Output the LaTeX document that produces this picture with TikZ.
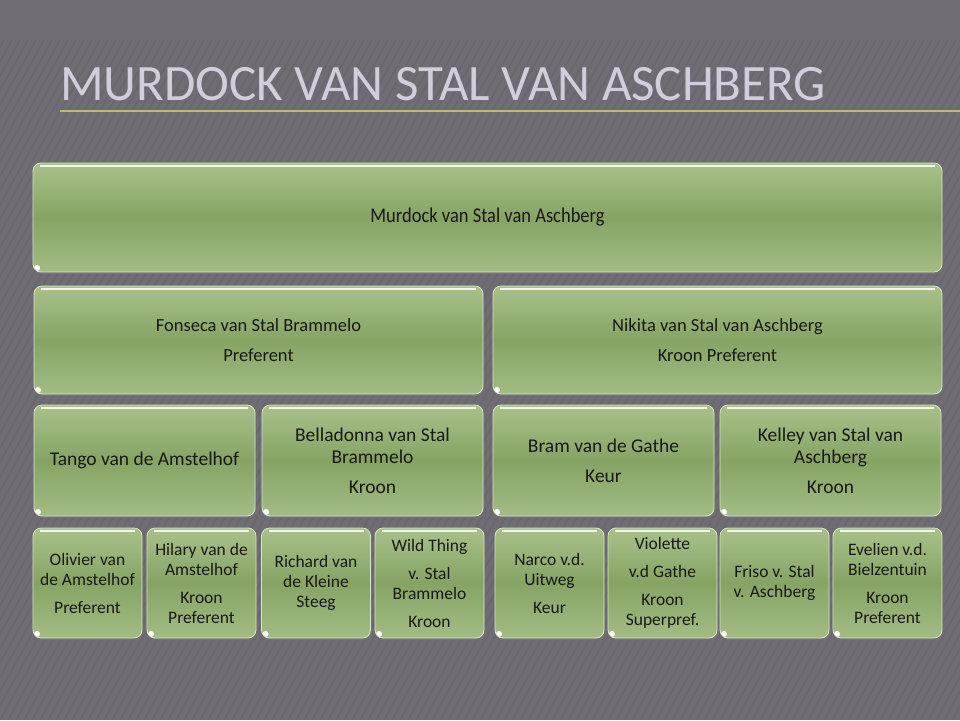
\documentclass[tikz,border=0pt]{standalone}
\usepackage{fontspec}
\setmainfont{Carlito}
\newfontfamily\narrowfont[FakeStretch=0.88]{Carlito}
\usetikzlibrary{shadows}

\definecolor{slide}{HTML}{6F6C74}
\definecolor{stripe}{HTML}{5E5B63}
\definecolor{gold}{HTML}{C9B66E}
\definecolor{titlegray}{HTML}{D2CDDA}
\definecolor{gtop}{HTML}{A8C18A}
\definecolor{gmid}{HTML}{87A364}
\definecolor{gbot}{HTML}{A2BC84}
\definecolor{gedge}{HTML}{D6E8C2}

\begin{document}
\begin{tikzpicture}[x=1pt,y=-1pt,
    horse/.style={draw=gedge, line width=0.8pt, rounded corners=8pt,
        top color=gtop, bottom color=gbot, middle color=gmid,
        inner sep=0pt, align=center, text=black!90,
        drop shadow={shadow xshift=1pt, shadow yshift=-2pt, opacity=0.35},
        path picture={
            \draw[white!85!gtop, line width=2.2pt]
                ([xshift=7pt,yshift=-3pt]path picture bounding box.north west) --
                ([xshift=-7pt,yshift=-3pt]path picture bounding box.north east);
            \fill[white] ([xshift=4pt,yshift=4pt]path picture bounding box.south west) circle (3pt);
        }},
    sire/.style={horse, minimum width=909pt, minimum height=109pt, font=\narrowfont\fontsize{21}{24}\selectfont},
    parent/.style={horse, minimum width=449pt, minimum height=108pt, font=\fontsize{18.5}{22}\selectfont},
    grand/.style={horse, minimum width=221pt, minimum height=111pt, font=\fontsize{19.5}{22}\selectfont},
    great/.style={horse, minimum width=109pt, minimum height=110pt, font=\fontsize{17.5}{20}\selectfont}]

  % slide background
  \fill[slide] (0,0) rectangle (960,720);
  \begin{scope}
    \clip (0,40) rectangle (960,720);
    \foreach \i in {-400,-392,...,960}
      \draw[stripe, opacity=0.3, line width=1.5pt] (\i,720) -- (\i+380,40);
  \end{scope}
  \useasboundingbox (0,0) rectangle (960,720);

  % title
  \node[anchor=base west, inner sep=0pt, text=titlegray, font=\fontsize{51}{51}\selectfont] (title) at (60,100) {MURDOCK VAN STAL VAN ASCHBERG};
  \coordinate (rule) at (960,111);
  \draw[gold, line width=2pt] (60,111) -- (rule);

  % pedigree
  \node[sire] (murdock) at (487.5,217.5) {Murdock van Stal van Aschberg};

  \node[parent] (fonseca) at (258.5,340) {Fonseca van Stal Brammelo\\[8pt]Preferent};
  \node[parent] (nikita)  at (717.5,340) {Nikita van Stal van Aschberg\\[8pt]Kroon Preferent};

  \node[grand] (tango)      at (144.5,460.5) {Tango van de Amstelhof};
  \node[grand] (belladonna) at (372.5,460.5) {Belladonna van Stal\\Brammelo\\[8pt]Kroon};
  \node[grand] (bram)       at (603.5,460.5) {Bram van de Gathe\\[8pt]Keur};
  \node[grand] (kelley)     at (830.5,460.5) {Kelley van Stal van\\Aschberg\\[8pt]Kroon};

  \node[great] (olivier)  at (87.5,583)  {Olivier van\\de Amstelhof\\[8pt]Preferent};
  \node[great] (hilary)   at (201.5,583) {Hilary van de\\Amstelhof\\[8pt]Kroon\\Preferent};
  \node[great] (richard)  at (316,583)   {Richard van\\de Kleine\\Steeg};
  \node[great] (wildthing) at (429.5,583) {Wild Thing\\[8pt]v. Stal\\Brammelo\\[8pt]Kroon};
  \node[great] (narco)    at (549.5,583) {Narco v.d.\\Uitweg\\[8pt]Keur};
  \node[great] (violette) at (662.5,583) {Violette\\[8pt]v.d Gathe\\[8pt]Kroon\\Superpref.};
  \node[great] (friso)    at (774.5,583) {Friso v. Stal\\v. Aschberg};
  \node[great] (evelien)  at (887.5,583) {Evelien v.d.\\Bielzentuin\\[8pt]Kroon\\Preferent};
\end{tikzpicture}
\end{document}
